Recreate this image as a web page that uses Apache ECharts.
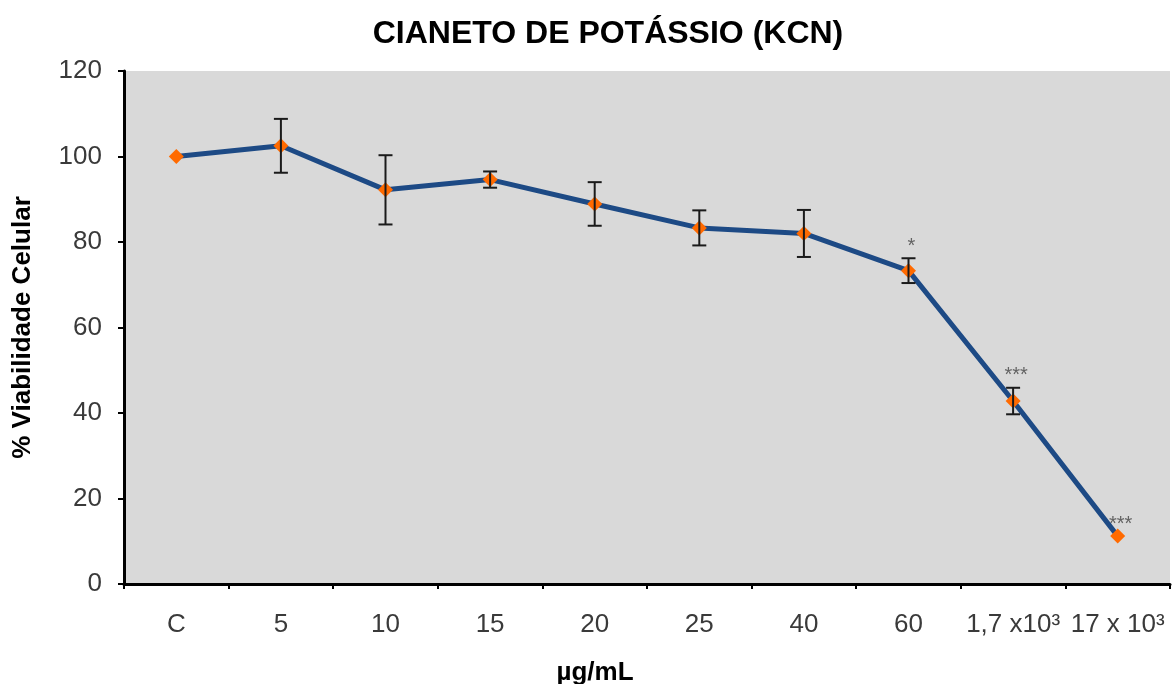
<!DOCTYPE html>
<html>
<head>
<meta charset="utf-8">
<script src="https://cdn.jsdelivr.net/npm/echarts@6/dist/echarts.min.js"></script>
<style>
html,body{margin:0;padding:0;background:#fff;}
#chart{width:1172px;height:684px;}
</style>
</head>
<body>
<div id="chart"></div>
<script>
// dados
let doses = ['C', '5', '10', '15', '20', '25', '40', '60', '1,7 x10³', '17 x 10³'];
let viabilidade = [100, 102.5, 92.2, 94.6, 88.9, 83.3, 82.0, 73.3, 42.8, 11.2];
let desvio = [0, 6.3, 8.1, 1.9, 5.1, 4.1, 5.5, 2.9, 3.1, 0];
let signif = ['', '', '', '', '', '', '', '*', '***', '***'];

let chart = echarts.init(document.getElementById('chart'));

let erros = doses.map(function(d, i){
    return [i, viabilidade[i] - desvio[i], viabilidade[i] + desvio[i]];
});

let option = {
    animation: false,
    title: {
        text: 'CIANETO DE POTÁSSIO (KCN)',
        left: 603,
        textAlign: 'center',
        top: 13,
        textStyle: {
            fontFamily: 'Liberation Sans, Arial',
            fontSize: 32,
            fontWeight: 'bold',
            color: '#000'
        }
    },
    grid: {
        left: 124,
        right: 2,
        top: 71,
        bottom: 100,
        containLabel: false,
        outerBoundsMode: 'none',
        show: true,
        backgroundColor: '#d9d9d9',
        borderWidth: 0
    },
    xAxis: {
        type: 'category',
        data: doses,
        name: 'µg/mL',
        nameLocation: 'middle',
        nameGap: 76,
        nameTextStyle: {
            fontFamily: 'Liberation Sans, Arial',
            fontSize: 26,
            fontWeight: 'bold',
            color: '#000',
            padding: [0, 104, 0, 0]
        },
        axisLine: {lineStyle: {color: '#000', width: 3}},
        axisTick: {show: true, length: 5, lineStyle: {color: '#000', width: 2}},
        axisLabel: {
            interval: 0,
            margin: 28,
            hideOverlap: false,
            fontFamily: 'Liberation Sans, Arial',
            fontSize: 26,
            color: '#3a3a3a'
        }
    },
    yAxis: {
        type: 'value',
        min: 0,
        max: 120,
        interval: 20,
        name: '% Viabilidade Celular',
        nameLocation: 'middle',
        nameGap: 88,
        nameTextStyle: {
            fontFamily: 'Liberation Sans, Arial',
            fontSize: 26,
            fontWeight: 'bold',
            color: '#000'
        },
        axisLine: {show: true, lineStyle: {color: '#000', width: 3}},
        axisTick: {show: true, length: 6, lineStyle: {color: '#000', width: 2}},
        splitLine: {show: false},
        axisLabel: {
            margin: 22,
            fontFamily: 'Liberation Sans, Arial',
            fontSize: 26,
            color: '#3a3a3a'
        }
    },
    series: [
        {
            type: 'line',
            data: viabilidade,
            symbol: 'diamond',
            symbolSize: 15,
            lineStyle: {color: '#1d4a85', width: 5},
            itemStyle: {color: '#ff6a00'},
            z: 3
        },
        {
            type: 'custom',
            data: erros,
            z: 4,
            renderItem: function(params, api){
                let x = api.value(0);
                let lo = api.coord([x, api.value(1)]);
                let hi = api.coord([x, api.value(2)]);
                let w = 7;
                if (Math.abs(hi[1] - lo[1]) < 1) return null;
                let st = {stroke: '#1a1a1a', lineWidth: 2};
                return {
                    type: 'group',
                    children: [
                        {type: 'line', shape: {x1: hi[0], y1: hi[1], x2: lo[0], y2: lo[1]}, style: st},
                        {type: 'line', shape: {x1: hi[0] - w, y1: hi[1], x2: hi[0] + w, y2: hi[1]}, style: st},
                        {type: 'line', shape: {x1: lo[0] - w, y1: lo[1], x2: lo[0] + w, y2: lo[1]}, style: st}
                    ]
                };
            }
        },
        {
            type: 'scatter',
            data: viabilidade.map(function(v, i){ return [i, v + desvio[i]]; }),
            symbolSize: 0,
            silent: true,
            label: {
                show: true,
                position: 'top',
                distance: 2,
                offset: [3, 0],
                formatter: function(p){ return signif[p.dataIndex]; },
                fontFamily: 'Liberation Sans, Arial',
                fontSize: 20,
                color: '#444'
            }
        }
    ]
};
chart.setOption(option);
</script>
</body>
</html>
